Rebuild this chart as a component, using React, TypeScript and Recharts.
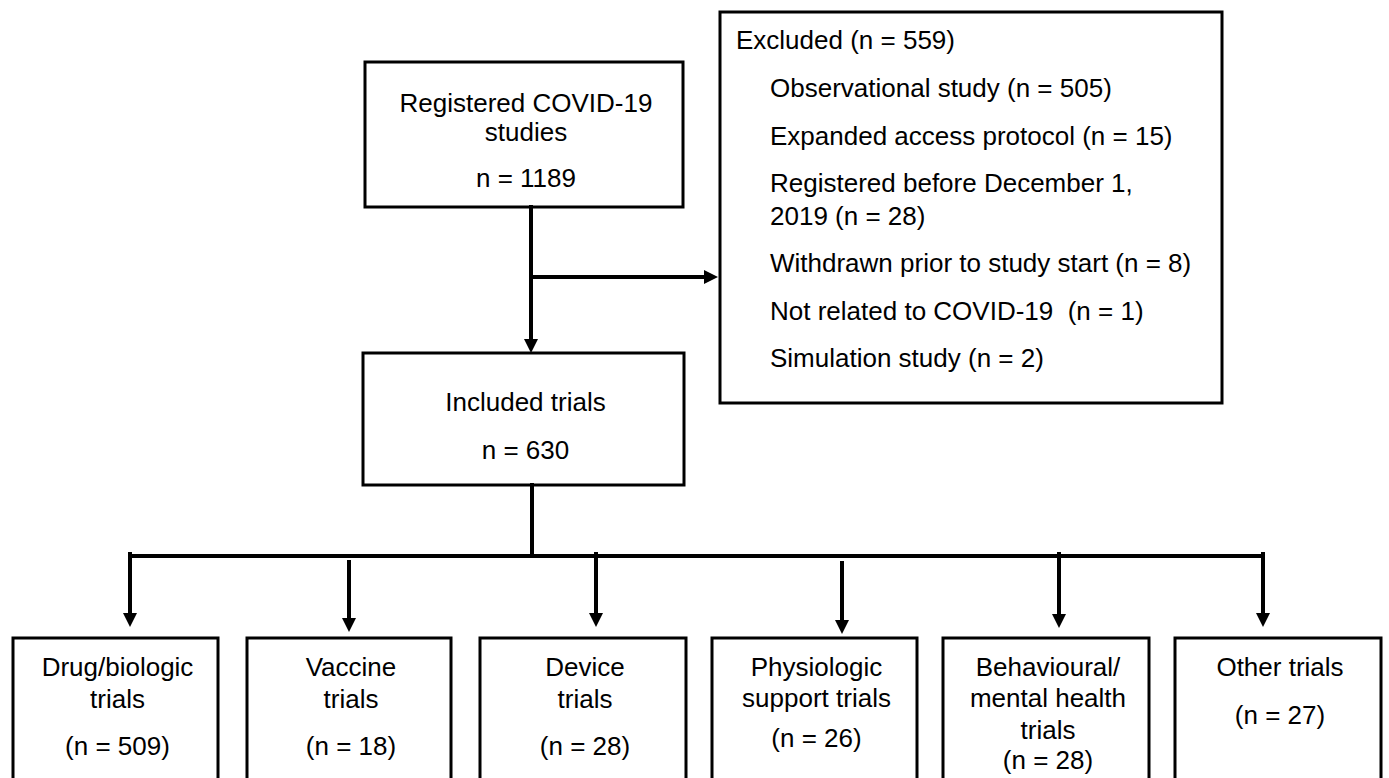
import React from 'react';
import { ComposedChart, XAxis, YAxis, ReferenceArea, ReferenceLine } from 'recharts';

// ---- data ----
const registeredLines = ['Registered COVID-19', 'studies'];
const registeredCount = 1189;

const includedLines = ['Included trials'];
const includedCount = 630;

const excludedCount = 559;
const exclusionReasons = [
  ['Observational study'],
  ['Expanded access protocol'],
  ['Registered before December 1,', '2019'],
  ['Withdrawn prior to study start'],
  ['Not related to COVID-19 '],
  ['Simulation study'],
];
const exclusionCounts = [505, 15, 28, 8, 1, 2];

const trialTypes = [
  ['Drug/biologic', 'trials'],
  ['Vaccine', 'trials'],
  ['Device', 'trials'],
  ['Physiologic', 'support trials'],
  ['Behavioural/', 'mental health', 'trials'],
  ['Other trials'],
];
const trialCounts = [509, 18, 28, 26, 28, 27];

// ---- layout (chart units = pixels) ----
const W = 1389;
const H = 778;
const FONT = '"Liberation Sans", Arial, Helvetica, sans-serif';
const FS = 26;

const topBox = { x1: 365, x2: 683, y1: 62, y2: 207 };
const topTextY = [41, 70, 116];
const inclBox = { x1: 363, x2: 684, y1: 353, y2: 485 };
const inclTextY = [49, 97];
const exclBox = { x1: 720, x2: 1222, y1: 12, y2: 403 };
const exclTextY = [28, 76, 124, 171, 204, 251, 299, 346];

const bottomX = [
  [13, 218],
  [247, 451],
  [480, 686],
  [712, 917],
  [943, 1149],
  [1175, 1381],
];
const bottomTop = 638;
const bottomTextY = [
  [29, 61, 108],
  [29, 61, 108],
  [29, 61, 108],
  [29, 60, 100],
  [29, 60, 92, 122],
  [29, 77],
];

const dropX = [130, 349, 596, 842, 1059, 1263];
const dropStart = [554, 562, 554, 563, 554, 554];
const dropEnd = [627, 632, 627, 634, 628, 627];

const arrows = [
  { x1: 531, y1: 207, x2: 531, y2: 353, head: true },
  { x1: 531, y1: 277, x2: 718, y2: 277, head: true },
  { x1: 532, y1: 485, x2: 532, y2: 556, head: false },
  { x1: 130, y1: 556, x2: 1263, y2: 556, head: false },
  ...dropX.map((x, i) => ({ x1: x, y1: dropStart[i], x2: x, y2: dropEnd[i], head: true })),
];

const arrowShape = (head: boolean) => (p: any) => {
  const { x1, y1, x2, y2 } = p;
  const dx = x2 - x1;
  const dy = y2 - y1;
  const len = Math.sqrt(dx * dx + dy * dy) || 1;
  const ux = dx / len;
  const uy = dy / len;
  const hl = 14;
  const hw = 7;
  const ex = head ? x2 - ux * hl : x2;
  const ey = head ? y2 - uy * hl : y2;
  return (
    <g>
      <line x1={x1} y1={y1} x2={ex} y2={ey} stroke="#000" strokeWidth={4} strokeLinecap="square" />
      {head && (
        <polygon
          points={`${x2},${y2} ${ex - uy * hw},${ey + ux * hw} ${ex + uy * hw},${ey - ux * hw}`}
          fill="#000"
        />
      )}
    </g>
  );
};

const boxShape = (lines: string[], ys: number[], align: 'middle' | 'start' = 'middle', xs?: number[]) => (p: any) => {
  const { x, y, width, height } = p;
  return (
    <g>
      <rect x={x} y={y} width={width} height={height} fill="#fff" stroke="#000" strokeWidth={3} />
      {lines.map((t, i) => (
        <text
          key={i}
          x={align === 'middle' ? x + width / 2 + 2 : x + (xs ? xs[i] : 16)}
          y={y + ys[i]}
          textAnchor={align}
          dominantBaseline="central"
          fontFamily={FONT}
          fontSize={FS}
          fill="#000"
          style={{ whiteSpace: 'pre' }}
        >
          {t}
        </text>
      ))}
    </g>
  );
};

const exclLines: string[] = [`Excluded (n = ${excludedCount})`];
exclusionReasons.forEach((r, i) => {
  r.forEach((t, j) => {
    exclLines.push(j === r.length - 1 ? `${t} (n = ${exclusionCounts[i]})` : t);
  });
});
const exclXs = exclLines.map((_, i) => (i === 0 ? 16 : 50));

const App: React.FC = () => {
  return (
    <div style={{ position: 'absolute', left: 0, top: 0, width: W, height: H, overflow: 'hidden', background: '#fff' }}>
      <ComposedChart width={W} height={H} margin={{ top: 0, right: 0, bottom: 0, left: 0 }}>
        <XAxis type="number" dataKey="x" domain={[0, W]} allowDataOverflow hide />
        <YAxis type="number" dataKey="y" domain={[0, H]} allowDataOverflow reversed hide />
        {arrows.map((a, i) => (
          <ReferenceLine
            key={`a-${i}`}
            segment={[{ x: a.x1, y: a.y1 }, { x: a.x2, y: a.y2 }]}
            ifOverflow="visible"
            shape={arrowShape(a.head)}
          />
        ))}
        <ReferenceArea
          {...topBox}
          ifOverflow="visible"
          shape={boxShape([...registeredLines, `n = ${registeredCount}`], topTextY)}
        />
        <ReferenceArea
          {...inclBox}
          ifOverflow="visible"
          shape={boxShape([...includedLines, `n = ${includedCount}`], inclTextY)}
        />
        <ReferenceArea {...exclBox} ifOverflow="visible" shape={boxShape(exclLines, exclTextY, 'start', exclXs)} />
        {trialTypes.map((t, i) => (
          <ReferenceArea
            key={`t-${i}`}
            x1={bottomX[i][0]}
            x2={bottomX[i][1]}
            y1={bottomTop}
            y2={H + 20}
            ifOverflow="visible"
            shape={boxShape([...t, `(n = ${trialCounts[i]})`], bottomTextY[i])}
          />
        ))}
      </ComposedChart>
    </div>
  );
};

export default App;
